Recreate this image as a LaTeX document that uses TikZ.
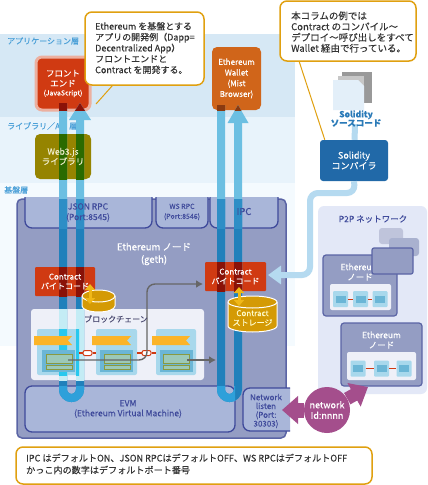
\documentclass[tikz,border=0pt]{standalone}
\usepackage{fontspec}
\setmainfont{Noto Sans CJK JP}[FakeBold=0.12]
\usetikzlibrary{arrows.meta}
\definecolor{bandA}{HTML}{D6E8F5}
\definecolor{bandB}{HTML}{E8F3FB}
\definecolor{bandC}{HTML}{F4FAFE}
\definecolor{nodeFill}{HTML}{949DC3}
\definecolor{nodeLine}{HTML}{5A64A5}
\definecolor{tabFill}{HTML}{A9B6D9}
\definecolor{tabLine}{HTML}{3F4A9B}
\definecolor{redBox}{HTML}{D03A12}
\definecolor{webBox}{HTML}{958400}
\definecolor{walletBox}{HTML}{D0651A}
\definecolor{compBox}{HTML}{2169A8}
\definecolor{amber}{HTML}{E0A010}
\definecolor{skyPipe}{HTML}{6CBFE2}
\definecolor{palePipe}{HTML}{B5DAF0}
\definecolor{darkPipe}{HTML}{2080BB}
\definecolor{tabPipe}{HTML}{2E8EC6}
\definecolor{evmPipe}{HTML}{2EA0DA}
\definecolor{panelPipe}{HTML}{C4ECF5}
\definecolor{blockPipe}{HTML}{28C8EE}
\definecolor{webPipe}{HTML}{2A6A00}
\definecolor{redPipe}{HTML}{8A1208}
\definecolor{walletPipe}{HTML}{8A3A10}
\definecolor{panelFill}{HTML}{EEF0F8}
\definecolor{p2pFill}{HTML}{E3E8F7}
\definecolor{docFill}{HTML}{E3EFF9}
\definecolor{cylFill}{HTML}{D49A05}
\definecolor{goldArrow}{HTML}{F0B818}
\definecolor{blockA}{HTML}{A8D8EC}
\definecolor{blockB}{HTML}{6BB6D6}
\definecolor{flagCol}{HTML}{FBB428}
\definecolor{recFill}{HTML}{9CC9B8}
\definecolor{recLine}{HTML}{8A9A40}
\definecolor{plum}{HTML}{A44E8C}
\definecolor{layerText}{HTML}{4BA0D8}
\definecolor{srcText}{HTML}{2A7AB8}
\definecolor{chainText}{HTML}{4A4A70}
\newcommand{\drawpipes}[1]{%
  \draw[pipe_style,draw=#1] (p1) -- (p2) -- (p3) -- (p4);
  \fill[#1] (p5) -- ++(-11,17) -- ++(22,0) -- cycle;
  \draw[pipe_style,draw=#1] (q1) -- (q2) -- (q3) -- (q4);
  \fill[#1] (q5) -- ++(-10.5,18) -- ++(21,0) -- cycle;
}
\newcommand{\pipesin}[3]{\begin{scope}\clip #1 rectangle #2;\drawpipes{#3}\end{scope}}
\begin{document}
\begin{tikzpicture}[x=1pt,y=-1pt,
    pipe_style/.style={line width=8pt,rounded corners=8.5pt},
    box_style/.style={rectangle,rounded corners=5pt,inner sep=0pt},
    white_text/.style={text=white,align=center,font=\fontsize{8.5}{10}\selectfont,inner sep=0pt},
    blue_text/.style={text=tabLine,align=center,font=\fontsize{8.5}{10.5}\selectfont,inner sep=0pt},
    layer_text/.style={text=layerText,anchor=west,font=\fontsize{8}{9}\selectfont,inner sep=0pt},
    call_style/.style={rectangle,rounded corners=7pt,draw=amber,line width=1.5pt,fill=white,inner sep=0pt},
    call_text/.style={text=black!80,align=left,anchor=west,font=\fontsize{9}{10.9}\selectfont,inner sep=0pt},
    call_line/.style={draw=amber,line width=1pt},
    tab_style/.style={draw=tabLine,line width=1.3pt,fill=tabFill,rounded corners=7pt},
    slot_style/.style={rectangle,fill=blockA,minimum width=15pt,minimum height=16pt,inner sep=0pt,rounded corners=1pt},
    slot_in_style/.style={rectangle,fill=blockB,minimum width=10pt,minimum height=7pt,inner sep=0pt},
    red_line/.style={draw=redBox,line width=0.8pt},
    link_style/.style={rectangle,rounded corners=2pt,draw=redBox,line width=1pt,fill=white,minimum width=9pt,minimum height=5pt,inner sep=0pt},
    gray_line/.style={draw=black!60,line width=1.4pt,rounded corners=8pt,-{Latex[length=7pt,width=8pt]}},
    gold_arrow/.style={draw=goldArrow,line width=3pt,{Triangle[length=6pt,width=10pt]}-{Triangle[length=6pt,width=10pt]}},
    cyl_style/.style={draw=white,line width=1pt,fill=cylFill},
    flag_style/.style={fill=flagCol},
    rec_style/.style={draw=recLine,line width=0.8pt,fill=recFill}]
    \useasboundingbox (0,0) rectangle (428,485);
    \fill[white] (0,0) rectangle (428,485);
    % layers
    \fill[bandA] (0,34) rectangle (295,117);
    \fill[bandB] (0,117) rectangle (295,183);
    \fill[bandC] (0,183) rectangle (295,346);
    \node[layer_text] (lay1) at (7,41) {アプリケーション層};
    \node[layer_text] (lay2) at (7,126) {ライブラリ／API 層};
    \node[layer_text] (lay3) at (4,190) {基盤層};
    % ethereum node
    \node[box_style,draw=nodeLine,line width=1.5pt,fill=nodeFill,minimum width=269pt,minimum height=239pt] (eth) at (151.5,318.5) {};
    \filldraw[tab_style] (25,197) -- (25,228) -- (152,228) -- (152,197);
    \filldraw[tab_style] (156,197) -- (156,228) -- (208,228) -- (208,197);
    \filldraw[tab_style] (210,197) -- (210,228) -- (278,228) -- (278,197);
    \node[box_style,rounded corners=7pt,draw=tabLine,line width=1.3pt,fill=tabFill,minimum width=210pt,minimum height=46pt] (evm) at (130,409) {};
    \fill[tabFill] (262,388) rectangle (290,431);
    \filldraw[tab_style] (290,388) -- (243,388) -- (243,431) -- (290,431);
    \node[box_style,rounded corners=3pt,fill=panelFill,minimum width=173pt,minimum height=71pt] (chain) at (117.5,344.5) {};
    % boxes
    \node[box_style,rounded corners=1pt,fill=redBox,minimum width=60pt,minimum height=29pt] (code1) at (65,281.5) {};
    \node[box_style,rounded corners=1pt,fill=redBox,minimum width=61pt,minimum height=29pt] (code2) at (235.5,276.5) {};
    \node[box_style,fill=webBox,minimum width=56pt,minimum height=45pt] (web3) at (63,156.5) {};
    \node[box_style,rounded corners=6pt,draw=redBox!40!white,line width=3pt,fill=redBox,minimum width=54pt,minimum height=53pt] (front) at (63,83.5) {};
    \node[box_style,fill=walletBox,minimum width=49pt,minimum height=63pt] (wallet) at (236.5,78.5) {};
    % pipes
    \coordinate (p1) at (63,103);
    \coordinate (p2) at (63,398);
    \coordinate (p3) at (80,398);
    \coordinate (p4) at (80,118);
    \coordinate (p5) at (80,103);
    \coordinate (q1) at (221,105);
    \coordinate (q2) at (221,398);
    \coordinate (q3) at (238,398);
    \coordinate (q4) at (238,121);
    \coordinate (q5) at (238,105);
    \drawpipes{skyPipe}
    \pipesin{(17,199)}{(286,438)}{darkPipe}
    \pipesin{(25,199)}{(152,228)}{tabPipe}
    \pipesin{(210,199)}{(278,228)}{tabPipe}
    \pipesin{(35,134)}{(91,179)}{webPipe}
    \pipesin{(36,57)}{(90,110)}{redPipe}
    \pipesin{(212,47)}{(261,110)}{walletPipe}
    \pipesin{(35,267)}{(95,296)}{redPipe}
    \pipesin{(205,262)}{(266,291)}{redPipe}
    \pipesin{(31,309)}{(204,380)}{panelPipe}
    \pipesin{(25,386)}{(235,432)}{evmPipe}
    % blocks
    \node[box_style,rounded corners=2pt,fill=blockA,minimum width=42pt,minimum height=46pt] (b1) at (58,352) {};
    \node[box_style,rounded corners=2pt,fill=blockA,minimum width=41pt,minimum height=46pt] (b2) at (116.5,352) {};
    \node[box_style,rounded corners=2pt,fill=blockA,minimum width=40pt,minimum height=46pt] (b3) at (176,352) {};
    \begin{scope}
    \clip (37,329) rectangle (79,375);
    \draw[pipe_style,draw=blockPipe] (p1) -- (p2) -- (p3) -- (p4);
    \end{scope}
    \node[rectangle,fill=blockB,minimum width=33pt,minimum height=22pt,inner sep=0pt] (i1) at (58.5,361) {};
    \node[rectangle,fill=blockB,minimum width=33pt,minimum height=22pt,inner sep=0pt] (i2) at (116.5,361) {};
    \node[rectangle,fill=blockB,minimum width=33pt,minimum height=22pt,inner sep=0pt] (i3) at (176.5,361) {};
    \fill[flag_style] (34,336) -- (72,336) -- (68,340.5) -- (72,345) -- (34,345) -- cycle;
    \fill[flag_style] (92,336) -- (131,336) -- (127,340.5) -- (131,345) -- (92,345) -- cycle;
    \fill[flag_style] (152,336) -- (190,336) -- (186,340.5) -- (190,345) -- (152,345) -- cycle;
    \filldraw[rec_style] (46,354) rectangle (72,363);
    \filldraw[rec_style] (46,365) rectangle (72,369);
    \filldraw[rec_style] (104,354) rectangle (130,363);
    \filldraw[rec_style] (104,365) rectangle (130,369);
    \filldraw[rec_style] (163,354) rectangle (189,363);
    \filldraw[rec_style] (163,365) rectangle (189,369);
    \node[link_style] (l1) at (87.5,353) {};
    \node[link_style] (l2) at (146.5,353) {};
    \draw[red_line,line width=1.2pt] (b1.east |- l1) -- (l1) -- (b2.west |- l1);
    \draw[red_line,line width=1.2pt] (b2.east |- l2) -- (l2) -- (b3.west |- l2);
    % state lines
    \coordinate (g1) at (68,360);
    \coordinate (g2) at (147,360);
    \coordinate (g3) at (147,284);
    \coordinate (g4) at (203,284);
    \coordinate (g5) at (187,360);
    \coordinate (g6) at (216,360);
    \draw[gray_line] (g1) -- (g2) -- (g3) -- (g4);
    \draw[gray_line] (g5) -- (g6);
    % storage
    \filldraw[cyl_style] (82,296) -- (82,306) arc[start angle=180,end angle=0,x radius=16.5,y radius=6] -- (115,296) arc[start angle=0,end angle=-180,x radius=16.5,y radius=6] -- cycle;
    \draw[cyl_style,fill=none] (82,296) arc[start angle=180,end angle=0,x radius=16.5,y radius=6];
    \filldraw[cyl_style] (228,302) -- (228,326) arc[start angle=180,end angle=0,x radius=24.5,y radius=6] -- (277,302) arc[start angle=0,end angle=-180,x radius=24.5,y radius=6] -- cycle;
    \draw[cyl_style,fill=none] (228,302) arc[start angle=180,end angle=0,x radius=24.5,y radius=6];
    \draw[gold_arrow] (90,284) -- (90,304);
    \draw[gold_arrow] (239,287) -- (239,306);
    % solidity
    \fill[black!40] (342,72) rectangle (372,103);
    \fill[black!22] (338,76) rectangle (364,107);
    \fill[docFill] (333,80) -- (358,80) -- (364,86) -- (364,110) -- (333,110) -- cycle;
    \node[box_style,rounded corners=3pt,fill=compBox,minimum width=68pt,minimum height=41pt] (comp) at (354,160.5) {};
    \coordinate (src) at (355,124);
    \coordinate (r1) at (355,193);
    \coordinate (r2) at (310,193);
    \coordinate (r3) at (310,275);
    \coordinate (r4) at (268,275);
    \draw[draw=palePipe,line width=6pt] (src) -- (comp);
    % p2p
    \node[box_style,rounded corners=6pt,fill=p2pFill,minimum width=109pt,minimum height=188pt] (p2p) at (372.5,300) {};
    \draw[draw=palePipe,line width=6pt,rounded corners=8pt,-{Triangle[length=13pt,width=18pt]}] (comp.south) -- (r1) -- (r2) -- (r3) -- (r4);
    \node[box_style,rounded corners=3pt,fill=nodeFill!60!white,minimum width=24pt,minimum height=16pt] (ghost1) at (391,236) {};
    \node[box_style,rounded corners=3pt,fill=nodeFill!80!white,minimum width=30pt,minimum height=18pt] (ghost2) at (404,247) {};
    \node[box_style,rounded corners=3pt,draw=nodeLine,line width=1.2pt,fill=nodeFill,minimum width=74pt,minimum height=61pt] (peer1) at (360,285.5) {};
    \node[white_text] at (360,272) {Ethereum\\ノード};
    \node[box_style,rounded corners=2pt,draw=nodeLine,line width=1.2pt,fill=nodeFill,minimum width=41pt,minimum height=26pt] (ghost3) at (392.5,261) {};
    \node[box_style,rounded corners=2pt,fill=panelFill,minimum width=61pt,minimum height=26pt] (chain1) at (360.5,297) {};
    \node[slot_style] (s1) at (340.5,299) {};
    \node[slot_style] (s2) at (360.5,299) {};
    \node[slot_style] (s3) at (380,299) {};
    \draw[red_line] (s1) -- (s2);
    \draw[red_line] (s2) -- (s3);
    \node[slot_in_style] at (s1) {};
    \node[slot_in_style] at (s2) {};
    \node[slot_in_style] at (s3) {};
    \node[box_style,rounded corners=3pt,draw=nodeLine,line width=1.2pt,fill=nodeFill,minimum width=81pt,minimum height=63pt] (peer2) at (381.5,354.5) {};
    \node[white_text] at (381.5,340) {Ethereum\\ノード};
    \node[box_style,rounded corners=2pt,fill=panelFill,minimum width=69pt,minimum height=28pt] (chain2) at (381.5,366) {};
    \node[slot_style] (s4) at (358,368.5) {};
    \node[slot_style] (s5) at (381.5,368.5) {};
    \node[slot_style] (s6) at (404,368.5) {};
    \draw[red_line] (s4) -- (s5);
    \draw[red_line] (s5) -- (s6);
    \node[slot_in_style] at (s4) {};
    \node[slot_in_style] at (s5) {};
    \node[slot_in_style] at (s6) {};
    % network id
    \node[circle,fill=plum,minimum width=46pt,inner sep=0pt] (netid) at (327,410) {};
    \coordinate (n1) at (282,410);
    \coordinate (n2) at (368,387);
    \draw[draw=plum,line width=15pt,-{Triangle[length=16pt,width=27pt]}] (netid) -- (n1);
    \draw[draw=plum,line width=13pt,-{Triangle[length=16pt,width=26pt]}] (netid) -- (n2);
    \node[white_text,font=\fontsize{9}{10.5}\selectfont] at (netid) {network\\Id:nnnn};
    % labels
    \node[white_text] at (front) {フロント\\エンド\\[-1pt]{\fontsize{7}{8}\selectfont (JavaScript)}};
    \node[white_text,text=white!85!olive] at (web3) {Web3.js\\ライブラリ};
    \node[white_text,font=\fontsize{8}{10.7}\selectfont] at (wallet) {Ethereum\\Wallet\\(Mist\\Browser)};
    \node[white_text,font=\fontsize{8}{9.5}\selectfont] at (code1) {Contract\\バイトコード};
    \node[white_text,font=\fontsize{8}{9.5}\selectfont] at (code2) {Contract\\バイトコード};
    \node[white_text,text=white!80!yellow,font=\fontsize{8}{9.5}\selectfont] at (252.5,318) {Contract\\ストレージ};
    \node[white_text,font=\fontsize{9}{10.5}\selectfont] at (comp) {Solidity\\コンパイラ};
    \node[text=srcText,align=center,font=\fontsize{8.5}{8.8}\selectfont\bfseries,inner sep=0pt] (srclabel) at (356,118.5) {Solidity\\ソースコード};
    \node[blue_text] at (88,212.5) {JSON RPC\\(Port:8545)};
    \node[blue_text,font=\fontsize{7}{10}\selectfont] at (182,212) {WS RPC\\(Port:8546)};
    \node[blue_text,font=\fontsize{9.5}{10}\selectfont] at (244,211.5) {IPC};
    \node[blue_text,font=\fontsize{8}{8.8}\selectfont] at (266,411) {Network\\listen\\(Port:\\30303)};
    \node[blue_text,font=\fontsize{8.5}{10}\selectfont] at (128,409) {EVM\\(Ethereum Virtual Machine)};
    \node[white_text,font=\fontsize{9.5}{12.5}\selectfont] at (154,254) {Ethereum ノード\\(geth)};
    \node[text=chainText,font=\fontsize{8}{9}\selectfont,inner sep=0pt] at (116,319) {ブロックチェーン};
    \node[text=tabLine,font=\fontsize{8.5}{10}\selectfont,inner sep=0pt] at (373,219) {P2P ネットワーク};
    % callouts
    \coordinate (tip1) at (96,104);
    \node[call_style,minimum width=119pt,minimum height=73pt] (call1) at (144.5,48.5) {};
    \draw[call_line] ([xshift=28pt]call1.south west) -- (tip1);
    \node[call_text] at (95,48) {Ethereum を基盤とする\\アプリの開発例（Dapp=\\Decentralized App）\\フロントエンドと\\Contract を開発する。};
    \node[call_style,minimum width=136pt,minimum height=60pt] (call2) at (348,31) {};
    \draw[call_line] ([xshift=20pt]call2.south west) -- ([xshift=5pt]comp.north west);
    \node[call_text,font=\fontsize{9.5}{10.8}\selectfont] at (291,32) {本コラムの例では\\Contract のコンパイル～\\デプロイ～呼び出しをすべて\\Wallet 経由で行っている。};
    \node[call_style,minimum width=356pt,minimum height=37pt] (note) at (194,465.5) {};
    \node[call_text,font=\fontsize{9.1}{12}\selectfont] at (26,464) {IPC はデフォルトON、JSON RPCはデフォルトOFF、WS RPCはデフォルトOFF\\かっこ内の数字はデフォルトポート番号};
\end{tikzpicture}
\end{document}
